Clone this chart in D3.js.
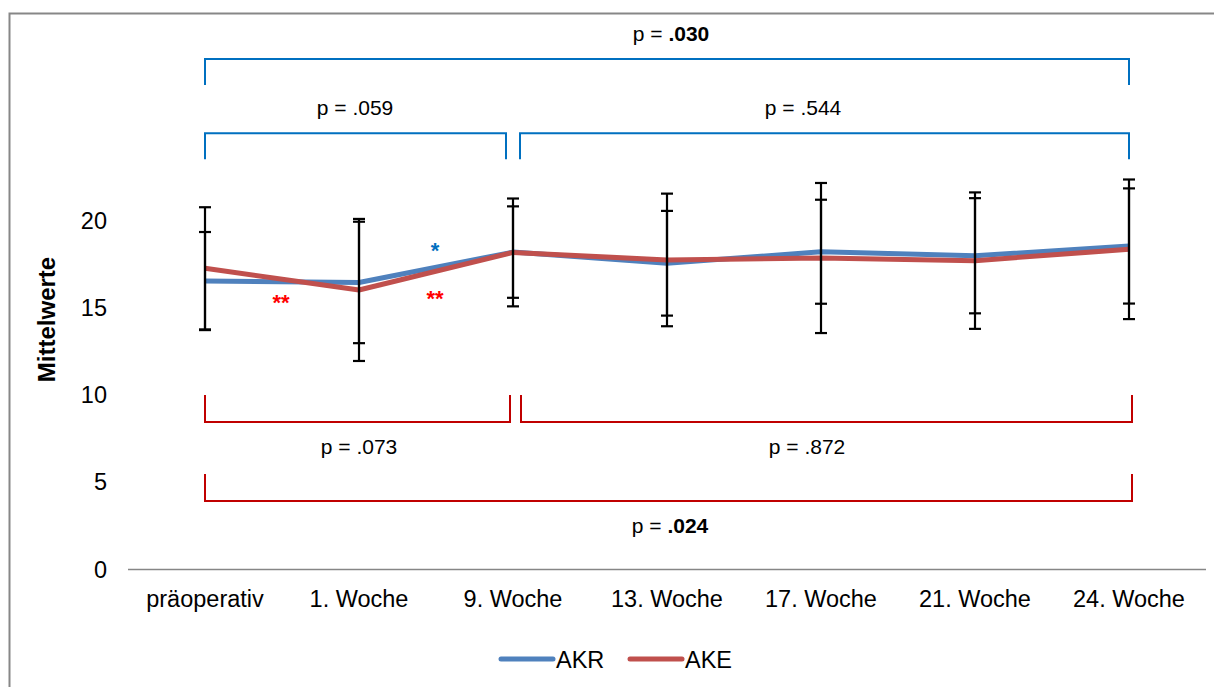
<!DOCTYPE html>
<html>
<head>
<meta charset="utf-8">
<script src="https://cdn.jsdelivr.net/npm/d3@7"></script>
<style>
  html, body { margin: 0; padding: 0; background: #fff; }
  svg { display: block; font-family: "Liberation Sans", Arial, sans-serif; }
</style>
</head>
<body>
<svg id="chart" width="1214" height="687"></svg>
<script>
// Zeitpunkte der Messung
const categories = ["präoperativ", "1. Woche", "9. Woche", "13. Woche", "17. Woche", "21. Woche", "24. Woche"];

// Mittelwerte je Gruppe
const akrMeans = [16.53, 16.45, 18.19, 17.55, 18.21, 17.98, 18.54];
const akeMeans = [17.26, 16.02, 18.17, 17.74, 17.85, 17.70, 18.35];

// Standardabweichungen je Gruppe
const akrSD = [2.81, 3.48, 2.62, 3.00, 2.98, 3.30, 3.30];
const akeSD = [3.50, 4.07, 3.09, 3.80, 4.30, 3.91, 4.00];

const yTicks = [0, 5, 10, 15, 20];

// Vergleichsklammern: von/bis Zeitpunkt-Index, Höhe auf der y-Skala, p-Wert
const blueBrackets = [
  { from: 0, to: 6, level: 29.25, p: ".030", bold: true },
  { from: 0, to: 2, level: 25.0, p: ".059", bold: false },
  { from: 2, to: 6, level: 25.0, p: ".544", bold: false }
];
const redBrackets = [
  { from: 0, to: 2, level: 8.45, p: ".073", bold: false },
  { from: 2, to: 6, level: 8.45, p: ".872", bold: false },
  { from: 0, to: 6, level: 3.93, p: ".024", bold: true }
];

const series = [
  { name: "AKR", means: akrMeans, sd: akrSD, color: "#4F81BD" },
  { name: "AKE", means: akeMeans, sd: akeSD, color: "#C0504D" }
];

const svg = d3.select("#chart");

// Rahmen
svg.append("rect")
  .attr("x", 9.5).attr("y", 13.5)
  .attr("width", 1220).attr("height", 700)
  .attr("fill", "none").attr("stroke", "#878787").attr("stroke-width", 2);

const x = d3.scaleBand().domain(categories).range([128, 1206]).padding(0);
const cx = c => x(c) + x.bandwidth() / 2;
const y = d3.scaleLinear().domain([0, 20]).range([569.5, 220.5]);

// x-Achse (Linie + Beschriftung)
svg.append("line")
  .attr("x1", 128).attr("x2", 1206)
  .attr("y1", y(0)).attr("y2", y(0))
  .attr("stroke", "#868686").attr("stroke-width", 1.5);

svg.append("g").selectAll("text").data(categories).join("text")
  .attr("x", d => cx(d)).attr("y", 607)
  .attr("text-anchor", "middle")
  .attr("font-size", 23.5).attr("fill", "#000")
  .text(d => d);

// y-Achse (nur Beschriftung)
const yAxis = d3.axisLeft(y).tickValues(yTicks).tickSize(0).tickPadding(0);
const yg = svg.append("g").attr("transform", "translate(107,0)").call(yAxis);
yg.select(".domain").remove();
yg.selectAll("text").attr("font-size", 23.5).attr("font-family", "Liberation Sans, Arial, sans-serif").attr("fill", "#000");

svg.append("text")
  .attr("transform", "translate(55,319.5) rotate(-90)")
  .attr("text-anchor", "middle")
  .attr("font-size", 24).attr("font-weight", "bold")
  .text("Mittelwerte");

// Linien
const line = d3.line().x((d, i) => cx(categories[i])).y(d => y(d));
series.forEach(s => {
  svg.append("path")
    .attr("d", line(s.means))
    .attr("fill", "none")
    .attr("stroke", s.color)
    .attr("stroke-width", 5)
    .attr("stroke-linejoin", "round");
});

// Fehlerbalken (Mittelwert ± SD)
const capW = 6;
series.forEach(s => {
  const g = svg.append("g").attr("stroke", "#000").attr("stroke-width", 2.2);
  s.means.forEach((m, i) => {
    const px = cx(categories[i]);
    const hi = y(m + s.sd[i]), lo = y(m - s.sd[i]);
    g.append("line").attr("x1", px).attr("x2", px).attr("y1", hi).attr("y2", lo);
    g.append("line").attr("x1", px - capW).attr("x2", px + capW).attr("y1", hi).attr("y2", hi);
    g.append("line").attr("x1", px - capW).attr("x2", px + capW).attr("y1", lo).attr("y2", lo);
  });
});

// Signifikanzsterne zwischen Zeitpunkten
const midX = (a, b) => (cx(categories[a]) + cx(categories[b])) / 2;
const stars = [
  { between: [1, 2], text: "*", color: "#0070C0", value: 17.87 },
  { between: [0, 1], text: "**", color: "#FF0000", value: 14.87 },
  { between: [1, 2], text: "**", color: "#FF0000", value: 15.12 }
];
svg.append("g").selectAll("text").data(stars).join("text")
  .attr("x", d => midX(d.between[0], d.between[1]) - 1)
  .attr("y", d => y(d.value))
  .attr("text-anchor", "middle")
  .attr("font-size", 22).attr("font-weight", "bold")
  .attr("fill", d => d.color)
  .text(d => d.text);

// Klammern
function drawBracket(b, color, dir, drop, labelDy, labelX) {
  let x1 = cx(categories[b.from]);
  let x2 = cx(categories[b.to]);
  if (b.to === 2 && b.from === 0) x2 -= (color === "#0070C0" ? 7 : 3);
  if (b.from === 2) x1 += (color === "#0070C0" ? 7 : 8);
  if (color === "#C00000" && b.to === 6) x2 += 3;
  const ly = y(b.level);
  svg.append("path")
    .attr("d", `M${x1},${ly + dir * drop}V${ly}H${x2}V${ly + dir * drop}`)
    .attr("fill", "none").attr("stroke", color).attr("stroke-width", 2);
  const t = svg.append("text")
    .attr("x", labelX).attr("y", ly + labelDy)
    .attr("text-anchor", "middle")
    .attr("font-size", 21).attr("fill", "#000");
  t.append("tspan").text("p = ");
  t.append("tspan").attr("font-weight", b.bold ? "bold" : "normal").text(b.p);
}

const blueLabelX = [midX(0, 6) + 4, cx(categories[1]) - 4, midX(3, 4) + 59];
blueBrackets.forEach((b, i) => drawBracket(b, "#0070C0", 1, 26, -18, blueLabelX[i]));
const redLabelX = [cx(categories[1]), midX(3, 4) + 63, midX(0, 6) + 3];
redBrackets.forEach((b, i) => drawBracket(b, "#C00000", -1, 27, 32, redLabelX[i]));

// Legende
const legend = svg.append("g");
const legendItems = [
  { s: series[0], x: 499 },
  { s: series[1], x: 628 }
];
legendItems.forEach(it => {
  legend.append("line")
    .attr("x1", it.x + 2).attr("x2", it.x + 54)
    .attr("y1", 659).attr("y2", 659)
    .attr("stroke", it.s.color).attr("stroke-width", 5).attr("stroke-linecap", "round");
  legend.append("text")
    .attr("x", it.x + 57).attr("y", 667.5)
    .attr("font-size", 23.5).attr("fill", "#000")
    .text(it.s.name);
});
</script>
</body>
</html>
